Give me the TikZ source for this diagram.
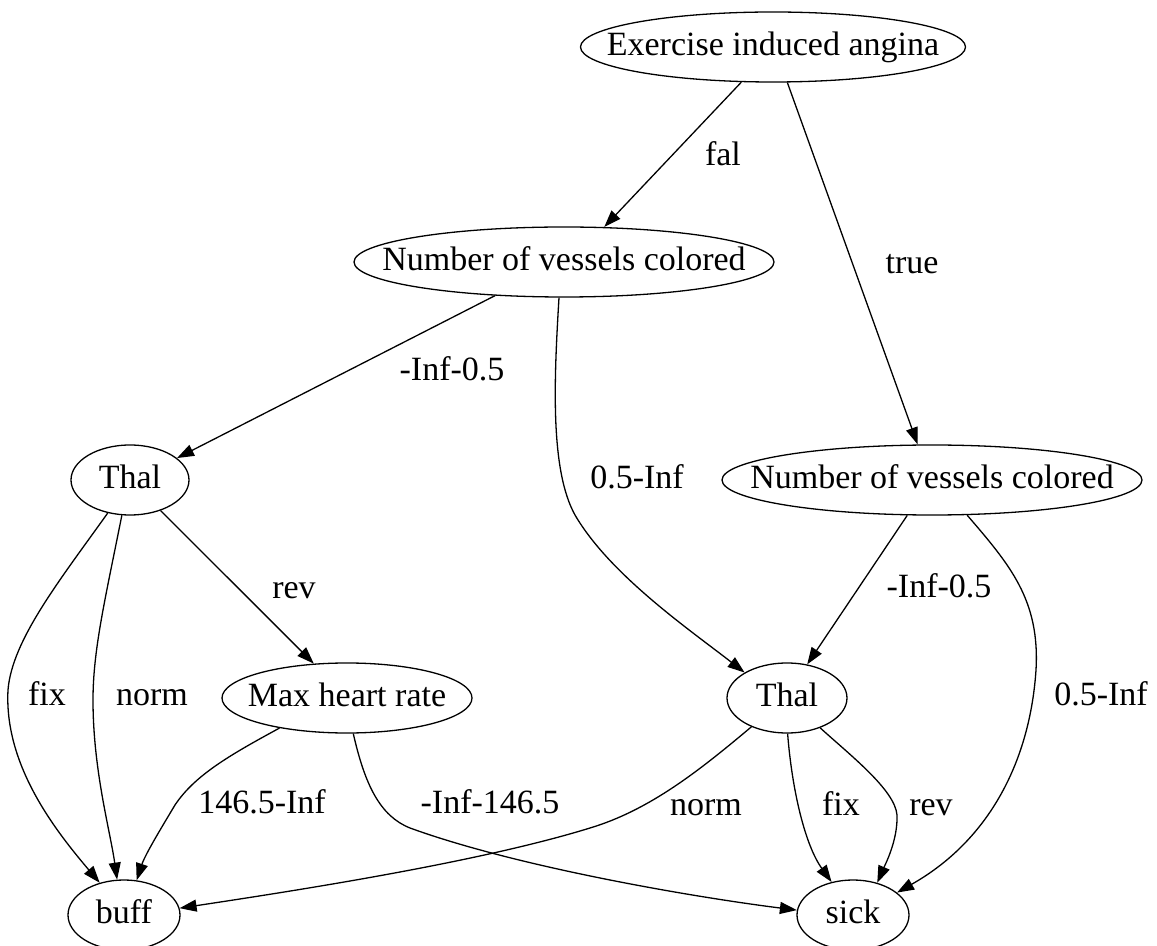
\documentclass[tikz,border=0pt]{standalone}
\usepackage{fontspec}
\setmainfont{Liberation Serif}
\usetikzlibrary{arrows.meta,shapes.geometric}
\tikzset{split/.style={draw,ellipse,line width=0.65pt,inner sep=0pt,minimum height=35pt,
  font=\fontsize{17}{20}\selectfont,text height=12pt,text depth=3.5pt,
  execute at begin node={\hbox to 0pt\bgroup\hss},execute at end node={\hss\egroup}},
  cond/.style={font=\fontsize{17}{20}\selectfont,inner sep=0pt,text height=12pt,text depth=3.5pt},
  branch/.style={-{Triangle[length=8.5pt,width=6pt]},line width=0.65pt}}

\begin{document}
\begin{tikzpicture}[x=0.5pt,y=-0.5pt]
\useasboundingbox (0,0) rectangle (1157,946);
\node[split,minimum width=192.5pt] (ang) at (773,47) {Exercise induced angina};
\node[split,minimum width=210pt] (nvc1) at (564,262) {Number of vessels colored};
\node[split,minimum width=210pt] (nvc2) at (932,480) {Number of vessels colored};
\node[split,minimum width=59pt] (thal1) at (130,480) {Thal};
\node[split,minimum width=60pt] (thal2) at (787,698) {Thal};
\node[split,minimum width=125pt] (mhr) at (347,698) {Max heart rate};
\node[split,minimum width=56pt] (buff) at (124,915) {buff};
\node[split,minimum width=56pt] (sick) at (853,915) {sick};
% branch labels
\node[cond] (lfal) at (723,157) {fal};
\node[cond] (ltrue) at (912,265) {true};
\node[cond] (lnvc1a) at (452,372) {-Inf-0.5};
\node[cond] (lnvc1b) at (637,480) {0.5-Inf};
\node[cond] (lnvc2a) at (939,589) {-Inf-0.5};
\node[cond] (lnvc2b) at (1101,697) {0.5-Inf};
\node[cond] (lthal1a) at (294,590) {rev};
\node[cond] (lthal1b) at (47,697) {fix};
\node[cond] (lthal1c) at (152,697) {norm};
\node[cond] (lmhra) at (262,805) {146.5-Inf};
\node[cond] (lmhrb) at (490,805) {-Inf-146.5};
\node[cond] (lthal2a) at (706,807) {norm};
\node[cond] (lthal2b) at (841,807) {fix};
\node[cond] (lthal2c) at (931,807) {rev};
% branches
\draw[branch] (ang.-132.5)--(nvc1.41.9);\draw[branch] (ang.-68.7)--(nvc2.112);
\draw[branch] (nvc1.206.9)--(thal1.25.6);
\draw[branch] (nvc1.262.1) .. controls (554,380) and (550,470) .. (575,515) .. controls (610,575) and (690,630) .. (thal2.149.4);
\draw[branch] (nvc2.235.2)--(thal2.59);
\draw[branch] (nvc2.-45) .. controls (1010,565) and (1040,600) .. (1036,670) .. controls (1030,760) and (990,840) .. (sick.27);
\draw[branch] (thal1.236.7) .. controls (60,580) and (12,640) .. (8,690) .. controls (4,765) and (55,830) .. (buff.127.6);
\draw[branch] (thal1.257.5) .. controls (105,600) and (93,650) .. (93,700) .. controls (93,770) and (110,830) .. (buff.101.3);
\draw[branch] (thal1.-45)--(mhr.134.2);
\draw[branch] (mhr.204.2) .. controls (230,755) and (195,775) .. (175,805) .. controls (160,830) and (145,855) .. (buff.70.6);
\draw[branch] (mhr.-80.8) .. controls (365,785) and (380,816) .. (410,828) .. controls (520,868) and (700,898) .. (sick.175.8);
\draw[branch] (thal2.219.1) .. controls (700,770) and (650,810) .. (590,828) .. controls (480,862) and (300,890) .. (buff.7.7);
\draw[branch] (thal2.271.5) .. controls (792,790) and (805,845) .. (sick.123.3);
\draw[branch] (thal2.-42.3) .. controls (850,755) and (895,790) .. (897,815) .. controls (898,840) and (885,865) .. (sick.53.4);
\end{tikzpicture}
\end{document}
